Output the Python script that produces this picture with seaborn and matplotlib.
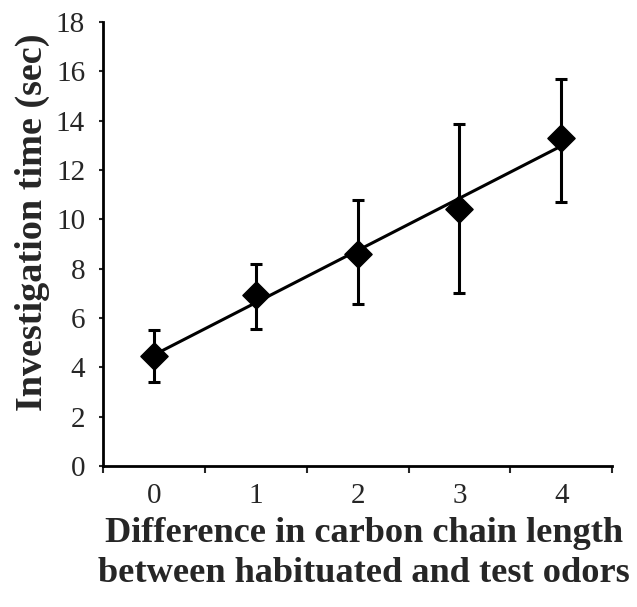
import matplotlib
matplotlib.use("Agg")
import matplotlib.pyplot as plt
import seaborn as sns
import numpy as np

# data
diff = [0, 1, 2, 3, 4]
mean_time = [4.45, 6.95, 8.6, 10.4, 13.3]
err_low = [1.05, 1.4, 2.05, 3.4, 2.6]
err_high = [1.05, 1.25, 2.2, 3.45, 2.4]
xticks = [0, 1, 2, 3, 4]
yticks = [0, 2, 4, 6, 8, 10, 12, 14, 16, 18]

sns.set_style("white")
plt.rcParams['font.family'] = ['Liberation Serif', 'DejaVu Serif']

fig = plt.figure(figsize=(6.37, 6.07), dpi=100)
ax = fig.add_axes([0.162, 0.232, 0.799, 0.732])

sns.regplot(x=np.array(diff), y=np.array(mean_time), ci=None, ax=ax,
            scatter=False, truncate=True,
            line_kws={'color': 'black', 'linewidth': 2.2})
ax.errorbar(diff, mean_time, yerr=[err_low, err_high], fmt='none',
            ecolor='black', elinewidth=2.2, capsize=4, capthick=2.2, zorder=3)
sns.scatterplot(x=diff, y=mean_time, marker='D', s=190, color='black',
                edgecolor='black', ax=ax, zorder=4)

ax.set_xlim(-0.5, 4.5)
ax.set_ylim(0, 18)
ax.set_yticks(yticks)
ax.set_xticks(xticks)
ax.set_xticks([-0.5, 0.5, 1.5, 2.5, 3.5, 4.5], minor=True)
ax.tick_params(axis='x', which='major', length=0, pad=12, labelsize=21)
ax.tick_params(axis='x', which='minor', length=5, width=1.5, direction='out')
ax.tick_params(axis='y', which='major', length=3, width=1.5, direction='out',
               pad=10, labelsize=21)
ax.xaxis.set_ticks_position('bottom')
ax.yaxis.set_ticks_position('left')

for side in ['top', 'right']:
    ax.spines[side].set_visible(False)
for side in ['left', 'bottom']:
    ax.spines[side].set_linewidth(2)
    ax.spines[side].set_color('black')

ax.set_xlabel('Difference in carbon chain length\nbetween habituated and test odors',
              fontsize=26.2, fontweight='bold', linespacing=1.25)
ax.set_ylabel('Investigation time (sec)', fontsize=27.5, fontweight='bold')
ax.xaxis.set_label_coords(0.513, -0.115, transform=ax.transAxes)
ax.xaxis.label.set_verticalalignment('top')
ax.yaxis.set_label_coords(-0.104, 0.55, transform=ax.transAxes)

fig.savefig('out.png', dpi=100)
